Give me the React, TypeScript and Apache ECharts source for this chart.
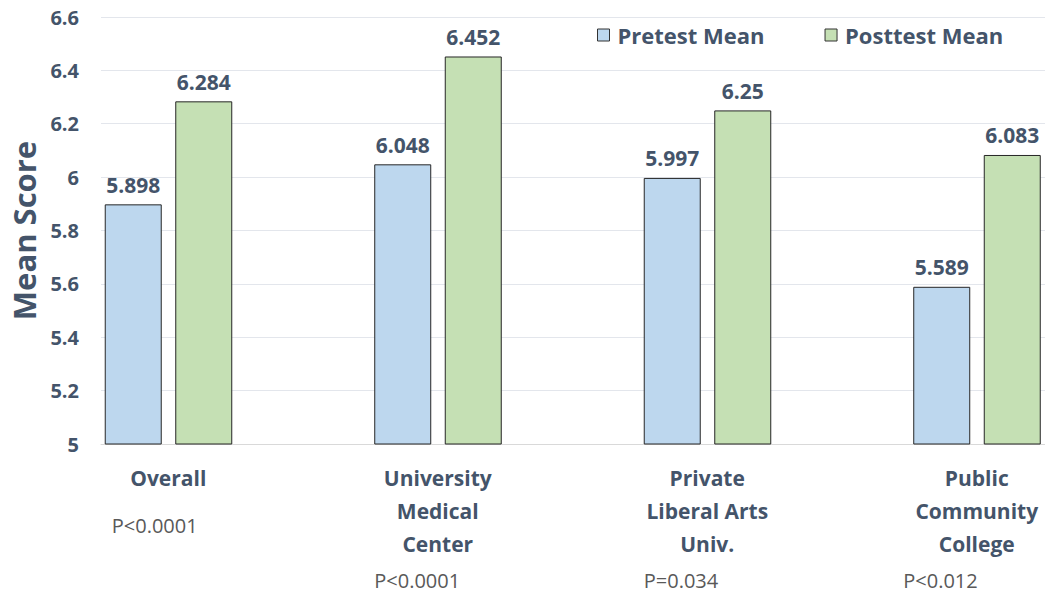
import React, { useEffect, useRef } from "react";
import * as echarts from "echarts";

const categories = [
  "Overall",
  "University\nMedical\nCenter",
  "Private\nLiberal Arts\nUniv.",
  "Public\nCommunity\nCollege",
];
const pretest = [5.898, 6.048, 5.997, 5.589];
const posttest = [6.284, 6.452, 6.25, 6.083];
const pValues = ["P<0.0001", "P<0.0001", "P=0.034", "P<0.012"];
// offsets of each p-value note: [dx from category start, dy below axis]
const pOffsets = [
  [11, 81],
  [4, 136],
  [4, 136],
  [-6, 136],
];

const FONT = "'Open Sans', Lato, sans-serif";
const TEXT = "#44546A";

const GRID_LEFT = 99;
const CAT_WIDTH = 270;
const CHART_W = GRID_LEFT + CAT_WIDTH * categories.length;

export default function App() {
  const ref = useRef<HTMLDivElement>(null);
  useEffect(() => {
    if (!ref.current) return;
    const chart = echarts.init(ref.current, undefined, { renderer: "svg" });
    const option: any = {
      animation: false,
      textStyle: { fontFamily: FONT },
      grid: {
        left: GRID_LEFT,
        top: 17,
        bottom: 150,
        right: 0,
        containLabel: false,
      },
      legend: {
        data: ["Pretest Mean", "Posttest Mean"],
        left: 592,
        top: 19,
        icon: "rect",
        itemWidth: 12,
        itemHeight: 12,
        itemGap: 60,
        itemStyle: { borderColor: "#333", borderWidth: 1 },
        textStyle: {
          fontFamily: FONT,
          fontWeight: "bold",
          fontSize: 22,
          color: TEXT,
          padding: [0, 0, 0, 3],
        },
      },
      xAxis: {
        type: "category",
        data: categories,
        axisLine: { show: true, lineStyle: { color: "#D9D9D9", width: 1 } },
        axisTick: { show: false },
        axisLabel: {
          interval: 0,
          margin: 17,
          fontFamily: FONT,
          fontWeight: "bold",
          fontSize: 21,
          lineHeight: 33,
          color: TEXT,
          padding: [0, CAT_WIDTH / 2, 0, 0],
        },
      },
      yAxis: {
        type: "value",
        min: 5,
        max: 6.6,
        interval: 0.2,
        name: "Mean Score",
        nameLocation: "middle",
        nameGap: 62,
        nameTextStyle: {
          fontFamily: FONT,
          fontWeight: "bold",
          fontSize: 31,
          color: TEXT,
        },
        axisLine: { show: false },
        axisTick: { show: false },
        splitLine: { lineStyle: { color: "#E3E6EC", width: 1 } },
        axisLabel: {
          margin: 22,
          fontFamily: FONT,
          fontWeight: "bold",
          fontSize: 20,
          color: TEXT,
        },
      },
      series: [
        {
          name: "Pretest Mean",
          type: "bar",
          data: pretest,
          barWidth: 57,
          barGap: "23.7%",
          itemStyle: { color: "#BDD7EE", borderColor: "#262626", borderWidth: 1 },
          label: {
            show: true,
            position: "top",
            distance: 9,
            fontFamily: FONT,
            fontWeight: "bold",
            fontSize: 21,
            color: TEXT,
          },
        },
        {
          name: "Posttest Mean",
          type: "bar",
          data: posttest,
          barWidth: 57,
          barGap: "23.7%",
          itemStyle: { color: "#C5E0B4", borderColor: "#262626", borderWidth: 1 },
          label: {
            show: true,
            position: "top",
            distance: 9,
            fontFamily: FONT,
            fontWeight: "bold",
            fontSize: 21,
            color: TEXT,
          },
        },
        {
          name: "_spacer",
          type: "bar",
          data: categories.map(() => null),
          barWidth: 121,
          barGap: "23.7%",
          silent: true,
          itemStyle: { color: "transparent" },
        },
      ],
    };
    chart.setOption(option);
    const axisY = 594 - 150;
    const graphics = pValues.map((p, i) => {
      const cx = chart.convertToPixel({ xAxisIndex: 0 }, i) as number;
      const start = cx - CAT_WIDTH / 2;
      return {
        type: "text",
        x: start + pOffsets[i][0],
        y: axisY + pOffsets[i][1],
        style: {
          text: p,
          fontFamily: FONT,
          fontSize: 20,
          lineHeight: 20,
          fill: "#595959",
          textAlign: "left",
          textVerticalAlign: "middle",
        },
      };
    });
    chart.setOption({ graphic: graphics });
    return () => chart.dispose();
  }, []);
  return (
    <div
      style={{
        position: "absolute",
        left: 0,
        top: 0,
        width: 1045,
        height: 594,
        overflow: "hidden",
      }}
    >
      <div ref={ref} style={{ width: CHART_W, height: 594 }} />
    </div>
  );
}
